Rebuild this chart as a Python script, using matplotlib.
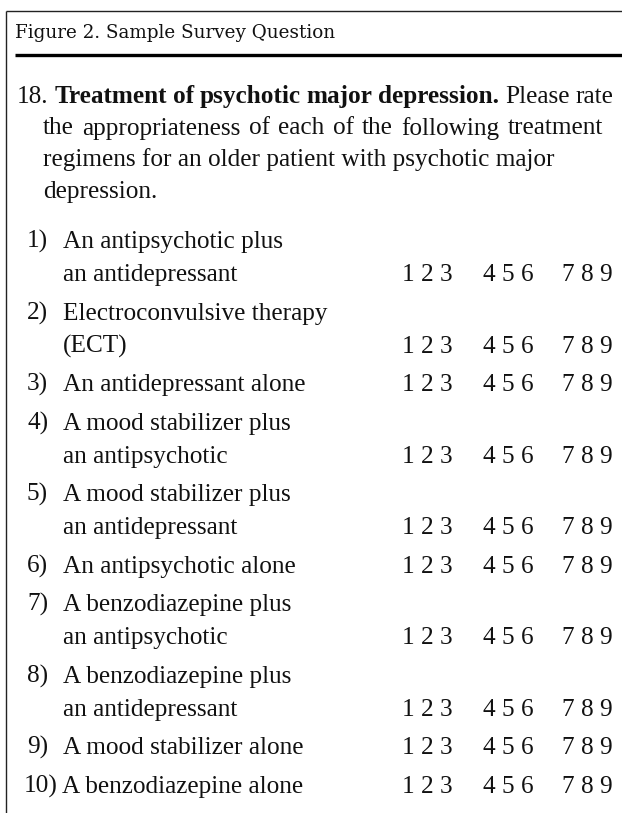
import matplotlib
matplotlib.use("Agg")
import matplotlib.pyplot as plt

# ---- content ----
header = "Figure 2. Sample Survey Question"
q_number = "18."
q_bold = "Treatment of psychotic major depression."
q_rest_first = "Please rate"
q_lines = [
    "the appropriateness of each of the following treatment",
    "regimens for an older patient with psychotic major",
    "depression.",
]
item_labels = ["1)", "2)", "3)", "4)", "5)", "6)", "7)", "8)", "9)", "10)"]
item_texts = [
    ["An antipsychotic plus", "an antidepressant"],
    ["Electroconvulsive therapy", "(ECT)"],
    ["An antidepressant alone"],
    ["A mood stabilizer plus", "an antipsychotic"],
    ["A mood stabilizer plus", "an antidepressant"],
    ["An antipsychotic alone"],
    ["A benzodiazepine plus", "an antipsychotic"],
    ["A benzodiazepine plus", "an antidepressant"],
    ["A mood stabilizer alone"],
    ["A benzodiazepine alone"],
]
scale_groups = ["1 2 3", "4 5 6", "7 8 9"]

# ---- layout (pixels) ----
W, H = 622, 813
DPI = 100
fig = plt.figure(figsize=(W / DPI, H / DPI), dpi=DPI)
ax = fig.add_axes([0, 0, 1, 1])
ax.set_xlim(0, W)
ax.set_ylim(H, 0)
ax.axis("off")

body_font = "Liberation Serif"
fs = 18.2
head_fs = 13.2
ink = "#111111"

# frame
ax.plot([6, W], [11, 11], color="#222222", lw=1.0, solid_capstyle="butt")
ax.plot([6, 6], [11, H], color="#222222", lw=1.0, solid_capstyle="butt")
ax.plot([15, W], [55, 55], color="black", lw=2.4, solid_capstyle="butt")

ax.text(15, 38, header, fontsize=head_fs, family="DejaVu Serif",
        va="baseline", ha="left", color=ink)

renderer = fig.canvas.get_renderer()


def px_width(t):
    return t.get_window_extent(renderer=renderer).width


def justified(words, x0, x1, y):
    """words: list of (text, weight). Spread them over x0..x1."""
    arts = [ax.text(0, y, w, fontsize=fs, family=body_font, weight=wt,
                    va="baseline", color=ink) for w, wt in words]
    widths = [px_width(a) for a in arts]
    gap = (x1 - x0 - sum(widths)) / (len(words) - 1)
    x = x0
    for a, wd in zip(arts, widths):
        a.set_x(x)
        x += wd + gap


# question paragraph
para_h = 31.5
y0 = 103
first = [(q_number, "normal")] + [(w, "bold") for w in q_bold.split()] + \
        [(w, "normal") for w in q_rest_first.split()]
justified(first, 17, 613, y0)
justified([(w, "normal") for w in q_lines[0].split()], 43, 603, y0 + para_h)
for i, ln in enumerate(q_lines[1:]):
    ax.text(43, y0 + (i + 2) * para_h, ln, fontsize=fs, family=body_font,
            va="baseline", color=ink)

# items
line_h = 33
row_gap = 38.5
y = 248
group_x = [402, 483, 562]
for lab, lines in zip(item_labels, item_texts):
    if len(lab) > 2:
        t = ax.text(24, y, lab, fontsize=fs, family=body_font,
                    va="baseline", color=ink)
        xt = 24 + px_width(t) + 4
    else:
        ax.text(27, y, lab, fontsize=fs, family=body_font, va="baseline",
                color=ink)
        xt = 63
    for j, ln in enumerate(lines):
        ax.text(xt, y + j * line_h, ln, fontsize=fs, family=body_font,
                va="baseline", color=ink)
    y_last = y + (len(lines) - 1) * line_h
    for gx, g in zip(group_x, scale_groups):
        ax.text(gx, y_last, g, fontsize=fs, family=body_font, va="baseline",
                color=ink)
    y = y_last + row_gap

fig.savefig("out.png", dpi=DPI, facecolor="white")
